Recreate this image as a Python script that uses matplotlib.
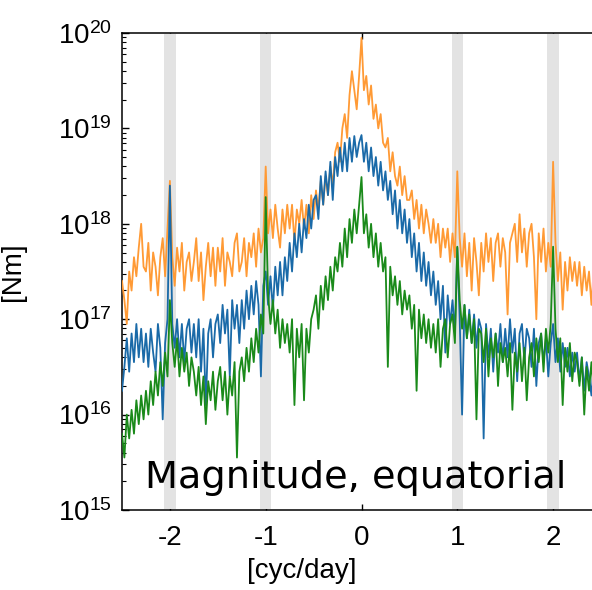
import matplotlib
matplotlib.use("Agg")
import matplotlib.pyplot as plt
import numpy as np
from matplotlib.ticker import LogLocator, FixedLocator

plt.rcParams['font.family'] = ['Liberation Sans', 'DejaVu Sans']

# frequency grid [cyc/day], step 0.025 from -2.5 to 2.5
freq = np.arange(201) * 0.025 - 2.5

# log10 of torque spectra (10 values per 0.25 cyc/day)
orange_log = [
    17.40, 17.20, 16.95, 17.50, 17.30, 17.65, 17.45, 17.75, 18.00, 17.55,
    17.50, 17.80, 17.30, 17.70, 17.55, 17.25, 17.65, 17.85, 17.45, 17.95,
    18.45, 17.65, 17.35, 17.75, 17.50, 17.80, 17.30, 17.60, 17.70, 17.40,
    17.60, 17.85, 17.40, 17.70, 17.20, 17.55, 17.80, 17.45, 17.75, 17.35,
    17.75, 17.50, 17.85, 17.35, 17.70, 17.60, 17.45, 17.80, 17.90, 17.50,
    17.60, 17.85, 17.45, 17.80, 17.65, 17.90, 17.55, 17.95, 17.70, 17.85,
    18.60, 17.90, 18.15, 17.85, 18.20, 17.95, 17.75, 18.15, 17.90, 18.20,
    17.95, 18.20, 17.80, 18.15, 18.00, 18.25, 17.95, 18.20, 17.90, 18.30,
    18.05, 18.35, 18.15, 18.45, 18.20, 18.50, 18.30, 18.60, 18.40, 18.75,
    18.85, 18.65, 19.00, 19.15, 18.90, 19.35, 19.60, 19.40, 19.20, 19.55,
    19.95, 19.40, 19.55, 19.25, 19.45, 19.10, 19.25, 19.00, 19.15, 18.85,
    18.80, 18.90, 18.55, 18.75, 18.50, 18.40, 18.60, 18.30, 18.50, 18.25,
    18.25, 18.35, 18.05, 18.25, 17.95, 18.20, 17.90, 18.15, 18.00, 17.80,
    18.05, 17.80, 18.00, 17.65, 17.95, 17.75, 17.95, 17.60, 17.90, 17.65,
    18.55, 17.85, 17.55, 17.90, 17.45, 17.80, 17.30, 17.85, 17.60, 17.25,
    17.80, 17.50, 17.90, 17.60, 17.85, 17.40, 17.80, 17.90, 17.55, 17.85,
    17.70, 17.05, 17.80, 17.90, 18.00, 17.60, 18.10, 17.70, 17.95, 17.55,
    17.90, 18.00, 17.65, 17.00, 17.90, 17.60, 17.95, 17.50, 17.80, 17.55,
    18.65, 17.80, 17.40, 17.70, 17.10, 17.60, 17.30, 17.65, 17.40, 17.60,
    17.35, 17.60, 17.25, 17.55, 17.30, 17.50, 17.15, 17.55, 17.35, 17.50,
    17.40,
]
blue_log = [
    16.25, 16.50, 16.80, 16.45, 16.85, 16.55, 16.95, 16.60, 16.90, 16.55,
    16.85, 16.50, 16.90, 16.65, 16.45, 16.95, 16.70, 15.95, 16.75, 17.00,
    18.40, 16.95, 16.70, 17.00, 16.60, 16.95, 16.55, 16.90, 17.00, 16.65,
    16.95, 16.60, 17.00, 16.45, 16.90, 16.10, 16.85, 17.00, 16.60, 16.95,
    17.05, 16.75, 17.15, 16.85, 17.10, 16.40, 17.20, 16.90, 17.15, 16.75,
    17.20, 16.90, 17.30, 17.00, 17.35, 17.05, 17.40, 17.15, 16.40, 17.35,
    17.50, 17.15, 17.45, 17.10, 17.55, 17.25, 17.60, 17.25, 17.65, 17.40,
    17.80, 17.50, 17.90, 17.65, 18.00, 17.70, 18.05, 17.85, 18.20, 17.95,
    18.25, 18.30, 18.05, 18.50, 18.20, 18.55, 18.30, 18.65, 18.25, 18.70,
    18.50, 18.80, 18.55, 18.85, 18.55, 18.90, 18.65, 18.92, 18.70, 18.85,
    18.93, 18.65, 18.85, 18.55, 18.80, 18.50, 18.70, 18.40, 18.65, 18.35,
    18.55, 18.25, 18.45, 18.10, 18.35, 17.95, 18.25, 17.90, 18.15, 17.80,
    18.05, 17.65, 17.90, 17.50, 17.80, 17.40, 17.70, 17.35, 17.60, 17.25,
    17.50, 17.15, 17.40, 17.00, 17.35, 16.65, 17.25, 16.95, 17.20, 16.85,
    17.75, 17.00, 16.00, 17.15, 16.80, 17.10, 16.75, 17.05, 16.70, 17.00,
    16.90, 15.75, 16.95, 16.60, 16.90, 16.45, 16.85, 16.65, 16.95, 16.55,
    16.90, 16.60, 17.00, 16.65, 16.90, 16.35, 16.85, 16.95, 16.55, 16.90,
    16.80, 16.50, 16.90, 16.30, 16.75, 16.85, 16.55, 16.80, 16.40, 16.75,
    16.95, 16.55, 16.80, 16.45, 16.75, 16.50, 16.70, 16.40, 16.65, 16.45,
    16.65, 16.35, 16.60, 16.25, 16.55, 16.40, 16.20, 16.55, 16.30, 16.50,
    16.40,
]
green_log = [
    15.80, 15.55, 16.00, 15.75, 16.05, 15.80, 16.15, 15.90, 16.20, 15.95,
    16.25, 16.00, 16.35, 16.10, 16.45, 16.20, 16.55, 16.30, 16.65, 16.40,
    17.20, 16.75, 16.50, 16.80, 16.40, 16.70, 16.45, 16.65, 16.30, 16.60,
    16.45, 16.20, 16.50, 16.10, 16.40, 15.90, 16.35, 16.15, 16.45, 16.05,
    16.35, 16.50, 16.15, 16.45, 16.00, 16.40, 16.20, 16.55, 15.55, 16.45,
    16.60, 16.35, 16.70, 16.45, 16.80, 16.55, 16.90, 16.65, 17.05, 16.85,
    18.28, 17.25, 16.95, 17.20, 16.85, 17.10, 16.70, 17.00, 16.75, 16.95,
    16.65, 17.00, 16.10, 16.90, 16.60, 16.95, 16.15, 16.90, 16.65, 17.00,
    17.10, 17.25, 16.90, 17.35, 17.10, 17.45, 17.20, 17.55, 17.30, 17.65,
    17.50, 17.80, 17.55, 17.95, 17.65, 18.05, 17.80, 18.15, 17.90, 18.20,
    18.49, 17.90, 18.10, 17.75, 18.00, 17.65, 17.90, 17.55, 17.80, 17.50,
    17.65, 16.50, 17.55, 17.25, 17.45, 17.15, 17.40, 17.05, 17.30, 17.10,
    17.25, 16.90, 17.15, 16.25, 17.10, 16.80, 17.05, 16.75, 17.00, 16.70,
    16.95, 16.65, 17.00, 16.50, 16.90, 17.00, 16.60, 16.95, 17.05, 16.75,
    17.76, 17.20, 16.90, 17.15, 16.80, 17.05, 16.75, 17.00, 15.95, 16.90,
    16.85, 16.55, 16.90, 16.40, 16.80, 16.60, 16.85, 16.30, 16.75, 16.55,
    16.70, 16.40, 16.75, 16.05, 16.65, 16.45, 16.75, 16.35, 16.70, 16.15,
    16.60, 16.75, 16.40, 16.80, 16.55, 16.85, 16.45, 16.90, 16.65, 16.95,
    17.76, 16.90, 16.55, 16.80, 16.10, 16.70, 16.45, 16.75, 16.35, 16.65,
    16.55, 16.30, 16.60, 16.00, 16.50, 16.25, 16.55, 16.20, 16.50, 16.30,
    16.40,
]

tidal_bands = [-2, -1, 1, 2]
band_half = 0.06

fig = plt.figure(figsize=(5.92, 5.90), dpi=100)
ax = fig.add_axes([122/592, 80/590, 479/592, 477/590])

for b in tidal_bands:
    ax.axvspan(b - band_half, b + band_half, ymin=0.002, ymax=0.998,
               color='#e3e3e3', lw=0, zorder=2.6)

ax.plot(freq, 10**np.array(orange_log), color='#ff9a35', lw=1.3, zorder=3)
ax.plot(freq, 10**np.array(blue_log), color='#1a6aa8', lw=1.3, zorder=3.1)
ax.plot(freq, 10**np.array(green_log), color='#1a8a1a', lw=1.3, zorder=3.2)

ax.set_yscale('log')
ax.set_ylim(1e15, 1e20)
ax.set_xlim(-2.5, 2.5)

ax.yaxis.set_major_locator(FixedLocator([10.0**k for k in range(15, 21)]))
ax.set_yticklabels([r'$\mathregular{10^{%d}}$' % k for k in range(15, 21)])
ax.yaxis.set_minor_locator(LogLocator(base=10, subs=np.arange(2, 10), numticks=20))
ax.set_xticks([-2, -1, 0, 1, 2])
ax.set_xticklabels(['-2', '-1', '0', '1', '2'])

ax.tick_params(axis='both', which='both', direction='in', top=True, right=False)
ax.tick_params(axis='y', which='major', length=5, width=1, labelsize=20, pad=7)
ax.tick_params(axis='y', which='minor', length=3, width=0.8)
ax.tick_params(axis='x', which='major', length=4, width=1, labelsize=20, pad=11)

ax.spines['right'].set_visible(False)
for s in ['left', 'top', 'bottom']:
    ax.spines[s].set_linewidth(1.1)

ax.set_xlabel('[cyc/day]', fontsize=20)
ax.xaxis.set_label_coords(0.376, -0.1)
ax.set_ylabel('[Nm]', fontsize=20)
ax.yaxis.set_label_coords(-0.2, 0.5)

ax.text(0.048, 0.046, 'Magnitude, equatorial', transform=ax.transAxes,
        fontsize=27.5, family=['DejaVu Sans'], va='baseline', ha='left', zorder=5)

fig.savefig('out.png', dpi=100)
